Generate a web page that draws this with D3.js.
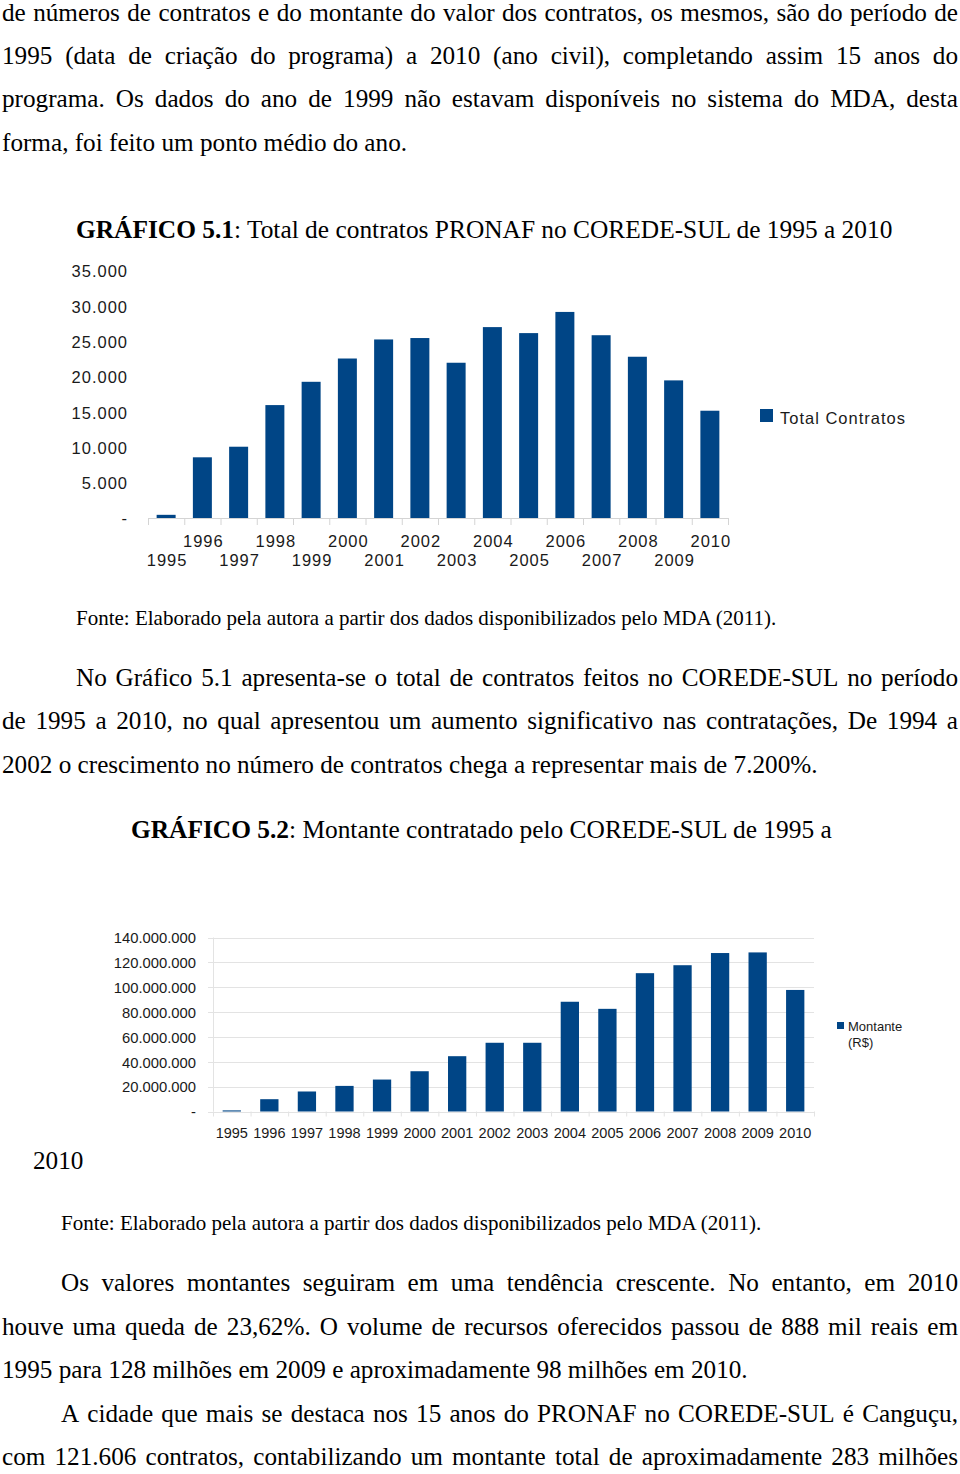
<!DOCTYPE html>
<html>
<head>
<meta charset="utf-8">
<script src="https://cdn.jsdelivr.net/npm/d3@7"></script>
<style>
  html, body { margin: 0; padding: 0; background: #fff; }
  svg { display: block; }
</style>
</head>
<body>
<svg id="page" width="960" height="1474"></svg>
<script>
// ---------------- DATA ----------------
const years = ["1995","1996","1997","1998","1999","2000","2001","2002","2003","2004","2005","2006","2007","2008","2009","2010"];
const totalContratos = [450, 8600, 10100, 16000, 19300, 22600, 25300, 25500, 22000, 27050, 26200, 29200, 25900, 22850, 19500, 15200];
const montante = [888000, 9900000, 16100000, 20600000, 25700000, 32400000, 44500000, 55300000, 55300000, 88300000, 82600000, 111300000, 117700000, 127500000, 128000000, 97800000];
const ticksContratos = [0, 5000, 10000, 15000, 20000, 25000, 30000, 35000];
const ticksMontante = [0, 20000000, 40000000, 60000000, 80000000, 100000000, 120000000, 140000000];
const legend1 = "Total Contratos";
const legend2 = ["Montante", "(R$)"];

// ---------------- HELPERS ----------------
const svg = d3.select("#page");
const SERIF = "'Liberation Serif', 'Times New Roman', serif";
const SANS = "'Liberation Sans', Arial, sans-serif";
const BLUE = "#004586";
const BODY = 25.2;

function plain(x, y, str, size, justifyW) {
  if (!justifyW) {
    svg.append("text").attr("x", x).attr("y", y)
      .attr("font-family", SERIF).attr("font-size", size).attr("fill", "#000").text(str);
    return;
  }
  const words = str.split(" ");
  const g = svg.append("g");
  const nodes = words.map(w => g.append("text").attr("x", x).attr("y", y)
    .attr("font-family", SERIF).attr("font-size", size).attr("fill", "#000").text(w));
  const widths = nodes.map(n => n.node().getComputedTextLength());
  const total = d3.sum(widths);
  const gap = (justifyW - total) / (words.length - 1);
  let cx = x;
  nodes.forEach((n, i) => { n.attr("x", cx); cx += widths[i] + gap; });
}
function title(x, y, boldStr, rest, size) {
  const t = svg.append("text").attr("x", x).attr("y", y)
    .attr("font-family", SERIF).attr("font-size", size).attr("fill", "#000");
  t.append("tspan").attr("font-weight", "bold").text(boldStr);
  t.append("tspan").text(rest);
}

// ---------------- BODY TEXT ----------------
plain(2, 21, "de números de contratos e do montante do valor dos contratos, os mesmos, são do período de", BODY, 956);
plain(2, 64, "1995 (data de criação do programa) a 2010 (ano civil), completando assim 15 anos do", BODY, 956);
plain(2, 107, "programa. Os dados do ano de 1999 não estavam disponíveis no sistema do MDA, desta", BODY, 956);
plain(2, 151, "forma, foi feito um ponto médio do ano.", BODY);

title(76, 238, "GRÁFICO 5.1", ": Total de contratos PRONAF no COREDE-SUL de 1995 a 2010", 25.4);
plain(76, 625, "Fonte: Elaborado pela autora a partir dos dados disponibilizados pelo MDA (2011).", 21);

plain(76, 686, "No Gráfico 5.1 apresenta-se o total de contratos feitos no COREDE-SUL no período", BODY, 882);
plain(2, 729, "de 1995 a 2010, no qual apresentou um aumento significativo nas contratações, De 1994 a", BODY, 956);
plain(2, 773, "2002 o crescimento no número de contratos chega a representar mais de 7.200%.", BODY);

title(131, 838, "GRÁFICO 5.2", ": Montante contratado pelo COREDE-SUL de 1995 a", 25.4);
plain(33, 1169, "2010", BODY);
plain(61, 1230, "Fonte: Elaborado pela autora a partir dos dados disponibilizados pelo MDA (2011).", 21);

plain(61, 1291, "Os valores montantes seguiram em uma tendência crescente. No entanto, em 2010", BODY, 897);
plain(2, 1335, "houve uma queda de 23,62%. O volume de recursos oferecidos passou de 888 mil reais em", BODY, 956);
plain(2, 1378, "1995 para 128 milhões em 2009 e aproximadamente 98 milhões em 2010.", BODY);
plain(61, 1422, "A cidade que mais se destaca nos 15 anos do PRONAF no COREDE-SUL é Canguçu,", BODY, 897);
plain(2, 1465, "com 121.606 contratos, contabilizando um montante total de aproximadamente 283 milhões", BODY, 956);

// ---------------- NUMBER FORMAT ----------------
const ptBR = d3.formatLocale({decimal: ",", thousands: ".", grouping: [3], currency: ["R$", ""]});
const fmt = v => v === 0 ? "-" : ptBR.format(",")(v);

// ---------------- CHART 1 ----------------
{
  const L = 148, R = 728, B = 518, T = 271;
  const x = d3.scaleBand().domain(years).range([L, R]).paddingInner(0.476).paddingOuter(0.238);
  const y = d3.scaleLinear().domain([0, 35000]).range([B, T]);
  const g = svg.append("g");

  g.selectAll("rect.bar").data(years).join("rect").attr("class", "bar")
    .attr("x", d => x(d)).attr("width", x.bandwidth())
    .attr("y", (d, i) => y(totalContratos[i]))
    .attr("height", (d, i) => B - y(totalContratos[i]))
    .attr("fill", BLUE);

  // baseline + category boundary ticks
  g.append("line").attr("x1", L).attr("x2", R).attr("y1", B + 0.5).attr("y2", B + 0.5)
    .attr("stroke", "#d4d4d4").attr("stroke-width", 1);
  const step = x.step();
  g.selectAll("line.tk").data(d3.range(years.length + 1)).join("line").attr("class", "tk")
    .attr("x1", i => L + i * step + 0.5).attr("x2", i => L + i * step + 0.5)
    .attr("y1", B).attr("y2", B + 7).attr("stroke", "#d4d4d4");

  // y axis labels
  const ya = g.append("g").attr("transform", `translate(${L},0)`)
    .call(d3.axisLeft(y).tickValues(ticksContratos).tickFormat(fmt).tickSize(0).tickPadding(20));
  ya.select(".domain").remove();
  ya.selectAll("text").attr("font-family", SANS).attr("font-size", 16.5)
    .attr("letter-spacing", "1px").attr("fill", "#1a1a1a").attr("dy", "0.36em");

  // x axis labels (staggered)
  const xa = g.append("g").attr("transform", `translate(0,${B})`)
    .call(d3.axisBottom(x).tickSize(0));
  xa.select(".domain").remove();
  xa.selectAll("text").attr("font-family", SANS).attr("font-size", 16.5)
    .attr("letter-spacing", "1px").attr("fill", "#1a1a1a").attr("dy", 0)
    .attr("transform", "translate(1,0)")
    .attr("y", (d, i) => i % 2 === 0 ? 48 : 29);

  // legend
  g.append("rect").attr("x", 760).attr("y", 409).attr("width", 13).attr("height", 13).attr("fill", BLUE);
  g.append("text").attr("x", 780).attr("y", 424).attr("font-family", SANS).attr("font-size", 16.5)
    .attr("letter-spacing", "1px").attr("fill", "#1a1a1a").text(legend1);
}

// ---------------- CHART 2 ----------------
{
  const L = 213, R = 814, B = 1111.5, T = 937.5;
  const x = d3.scaleBand().domain(years).range([L, R]).paddingInner(0.513).paddingOuter(0.2565);
  const y = d3.scaleLinear().domain([0, 140000000]).range([B, T]);
  const g = svg.append("g");

  // gridlines
  g.selectAll("line.grid").data(ticksMontante).join("line").attr("class", "grid")
    .attr("x1", L - 5).attr("x2", R).attr("y1", d => Math.round(y(d)) + 0.5).attr("y2", d => Math.round(y(d)) + 0.5)
    .attr("stroke", "#e3e3e3");
  g.append("line").attr("x1", L + 0.5).attr("x2", L + 0.5).attr("y1", T).attr("y2", B)
    .attr("stroke", "#e3e3e3");
  const step = x.step();
  g.selectAll("line.tk").data(d3.range(years.length + 1)).join("line").attr("class", "tk")
    .attr("x1", i => L + i * step + 0.5).attr("x2", i => L + i * step + 0.5)
    .attr("y1", B).attr("y2", B + 5).attr("stroke", "#e3e3e3");

  g.selectAll("rect.bar").data(years).join("rect").attr("class", "bar")
    .attr("x", d => x(d)).attr("width", x.bandwidth())
    .attr("y", (d, i) => y(montante[i]))
    .attr("height", (d, i) => B - y(montante[i]))
    .attr("fill", BLUE);

  const ya = g.append("g").attr("transform", `translate(${L},0)`)
    .call(d3.axisLeft(y).tickValues(ticksMontante).tickFormat(fmt).tickSize(0).tickPadding(17));
  ya.select(".domain").remove();
  ya.selectAll("text").attr("font-family", SANS).attr("font-size", 14.8)
    .attr("fill", "#1a1a1a").attr("dy", "0.36em");

  const xa = g.append("g").attr("transform", `translate(0,${B})`)
    .call(d3.axisBottom(x).tickSize(0));
  xa.select(".domain").remove();
  xa.selectAll("text").attr("font-family", SANS).attr("font-size", 14.5)
    .attr("fill", "#1a1a1a").attr("dy", 0).attr("y", 26);

  g.append("rect").attr("x", 837).attr("y", 1022).attr("width", 7).attr("height", 7).attr("fill", BLUE);
  g.selectAll("text.leg").data(legend2).join("text").attr("class", "leg")
    .attr("x", 848).attr("y", (d, i) => 1031 + i * 15.5)
    .attr("font-family", SANS).attr("font-size", 13).attr("fill", "#1a1a1a").text(d => d);
}
</script>
</body>
</html>
